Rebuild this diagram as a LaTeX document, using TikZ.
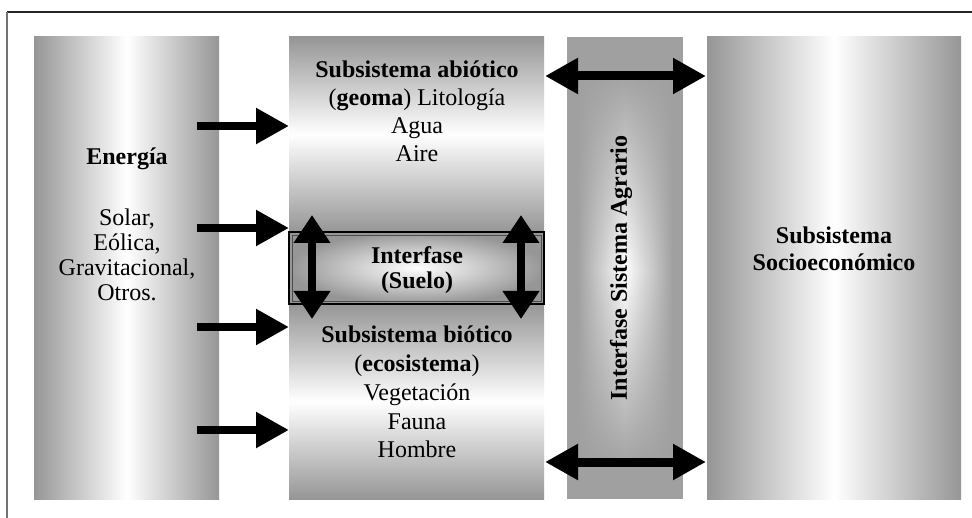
\documentclass[tikz,border=0pt]{standalone}
\usepackage{fontspec}
\setmainfont{Liberation Serif}
\usetikzlibrary{arrows.meta,fadings}
\definecolor{edgegray}{RGB}{150,150,150}
\definecolor{agrgray}{RGB}{160,160,160}
\tikzfading[name=vmid, top color=transparent!100, bottom color=transparent!100, middle color=transparent!0]
\begin{document}
\begin{tikzpicture}[x=1pt,y=-1pt,
  txt/.style={font=\fontsize{24}{25}\selectfont, align=center, inner sep=0pt},
  bigarrow/.style={line width=8.5pt, -{Triangle[length=33pt,width=34pt]}},
  dblarrowh/.style={line width=9pt, {Triangle[length=33pt,width=34pt]}-{Triangle[length=33pt,width=34pt]}},
  dblarrowv/.style={line width=7.5pt, {Triangle[length=28pt,width=35pt]}-{Triangle[length=28pt,width=35pt]}},
  hcol/.style={left color=edgegray, right color=edgegray, middle color=white},
  vcol/.style={top color=edgegray, bottom color=edgegray, middle color=white},
]
\useasboundingbox (0,0) rectangle (972,518);
\fill[white] (0,0) rectangle (972,518);
% frame
\draw[line width=1.5pt, black!85] (7,12) -- (972,12);
\draw[line width=2pt, black!55] (7,12) -- (7,518);

% columns
\shade[hcol] (34,37) rectangle (219,499);
\shade[vcol] (289,37) rectangle (544,232);
\shade[vcol] (289,304) rectangle (544,499);
\shade[inner color=white, outer color=edgegray] (289,232) rectangle (544,304);
\draw[line width=1.2pt] (289,232) rectangle (544,304);
\draw[line width=0.6pt, black!70] (292,235) rectangle (541,301);
\fill[agrgray] (567,37) rectangle (683,499);
\shade[left color=agrgray, right color=agrgray, middle color=white, path fading=vmid] (577,70) rectangle (673,470);
\shade[hcol] (707,37) rectangle (961,499);

% texts
\node[txt] (energia) at (127,159) {\textbf{Energía}};
\node[txt] (fuentes) at (127,255) {Solar,\\Eólica,\\Gravitacional,\\Otros.};
\node[txt, font=\fontsize{24}{28}\selectfont] (abiotico) at (417,111) {\textbf{Subsistema abiótico}\\(\textbf{geoma}) Litología\\Agua\\Aire};
\node[txt] (suelo) at (417,270) {\textbf{Interfase}\\\textbf{(Suelo)}};
\node[txt, font=\fontsize{24}{28.8}\selectfont] (biotico) at (417,392) {\textbf{Subsistema biótico}\\(\textbf{ecosistema})\\Vegetación\\Fauna\\Hombre};
\node[txt, rotate=90] (agrario) at (621,268) {\textbf{Interfase Sistema Agrario}};
\node[txt, font=\fontsize{24}{27}\selectfont] (socio) at (834,249) {\textbf{Subsistema}\\\textbf{Socioeconómico}};

% arrow end points
\coordinate (e1) at (197,126); \coordinate (m1) at (289,126);
\coordinate (e2) at (197,228); \coordinate (m2) at (289,228);
\coordinate (e3) at (197,327); \coordinate (m3) at (289,327);
\coordinate (e4) at (197,430); \coordinate (m4) at (289,430);
\coordinate (sl1) at (312,215); \coordinate (sl2) at (312,319);
\coordinate (sr1) at (521,215); \coordinate (sr2) at (521,319);
\coordinate (a1) at (545,76); \coordinate (s1) at (706,76);
\coordinate (a2) at (545,462); \coordinate (s2) at (706,462);

\draw[bigarrow] (e1) -- (m1);
\draw[bigarrow] (e2) -- (m2);
\draw[bigarrow] (e3) -- (m3);
\draw[bigarrow] (e4) -- (m4);
\draw[dblarrowv] (sl1) -- (sl2);
\draw[dblarrowv] (sr1) -- (sr2);
\draw[dblarrowh] (a1) -- (s1);
\draw[dblarrowh] (a2) -- (s2);
\end{tikzpicture}
\end{document}
